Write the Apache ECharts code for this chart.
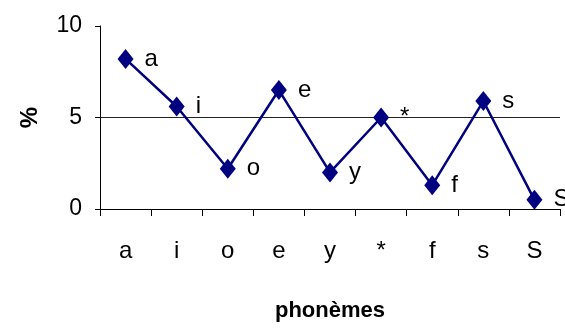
<!DOCTYPE html>
<html>
<head>
<meta charset="utf-8">
<script src="https://cdn.jsdelivr.net/npm/echarts@6/dist/echarts.min.js"></script>
<style>
  html, body { margin: 0; padding: 0; background: #fff; }
  #chart { width: 565px; height: 328px; }
</style>
</head>
<body>
<div id="chart"></div>
<script>
// phonèmes et pourcentages
const phonemes = ['a', 'i', 'o', 'e', 'y', '*', 'f', 's', 'S']
const percents = [8.2, 5.6, 2.2, 6.5, 2.0, 5.0, 1.3, 5.9, 0.5]
const yTicks = [0, 5, 10]

const narrow = '"Liberation Sans Narrow", "Arial Narrow", "Liberation Sans", Arial, sans-serif'

const myChart = echarts.init(document.getElementById('chart'))
myChart.setOption({
  backgroundColor: '#fff',
  animation: false,
  grid: {
    left: 100,
    right: 5,
    top: 26,
    bottom: 119
  },
  xAxis: {
    type: 'category',
    data: phonemes,
    boundaryGap: true,
    name: 'phonèmes',
    nameLocation: 'middle',
    nameGap: 91,
    nameTextStyle: {
      color: '#000',
      fontFamily: '"Liberation Sans", Arial, sans-serif',
      fontWeight: 'bold',
      fontSize: 22
    },
    axisLine: { lineStyle: { color: '#000', width: 1 } },
    axisTick: { show: true, length: 7, lineStyle: { color: '#000' } },
    axisLabel: {
      color: '#000',
      fontFamily: narrow,
      fontSize: 24,
      margin: 30
    },
    splitLine: { show: false }
  },
  yAxis: {
    type: 'value',
    min: yTicks[0],
    max: yTicks[yTicks.length - 1],
    interval: 5,
    name: '%',
    nameLocation: 'middle',
    nameRotate: 90,
    nameGap: 58,
    nameTextStyle: {
      color: '#000',
      fontFamily: '"Liberation Sans", Arial, sans-serif',
      fontWeight: 'bold',
      fontSize: 24
    },
    axisLine: { show: true, lineStyle: { color: '#000', width: 1 } },
    axisTick: { show: true, length: 5, lineStyle: { color: '#000' } },
    axisLabel: {
      color: '#000',
      fontFamily: narrow,
      fontSize: 23,
      margin: 18
    },
    splitLine: {
      show: true,
      showMinLine: false,
      showMaxLine: false,
      lineStyle: { color: '#222', width: 1 }
    }
  },
  series: [{
    name: '%',
    type: 'line',
    data: percents,
    symbol: 'diamond',
    symbolSize: [16, 20],
    itemStyle: { color: '#000080' },
    lineStyle: { color: '#000080', width: 2.5 },
    label: {
      show: true,
      position: 'right',
      distance: 11,
      color: '#000',
      fontFamily: narrow,
      fontSize: 24,
      formatter: (p) => phonemes[p.dataIndex]
    },
    z: 3
  }]
})
</script>
</body>
</html>
